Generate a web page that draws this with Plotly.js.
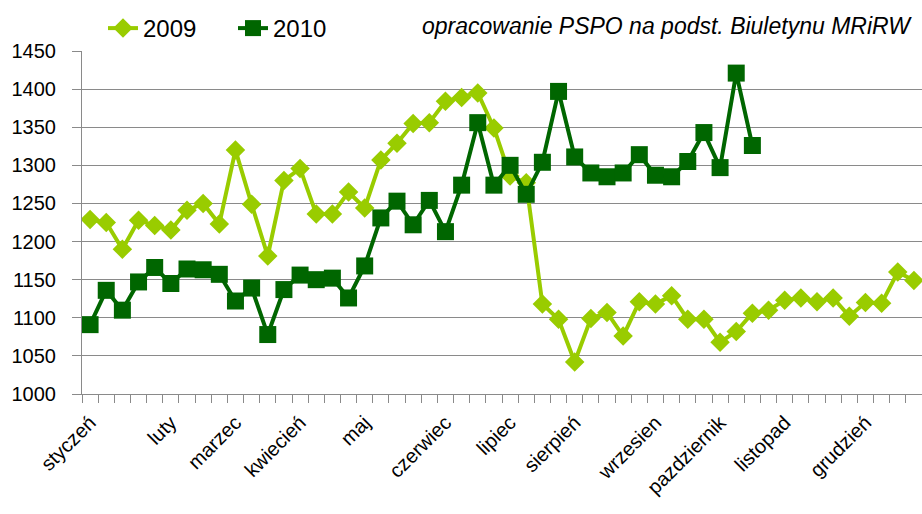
<!DOCTYPE html>
<html>
<head>
<meta charset="utf-8">
<script src="https://cdn.plot.ly/plotly-3.0.1.min.js"></script>
<style>html,body{margin:0;padding:0;background:#fff;}#chart{width:922px;height:514px;}</style>
</head>
<body>
<div id="chart"></div>
<script>
const weeks = [1,2,3,4,5,6,7,8,9,10,11,12,13,14,15,16,17,18,19,20,21,22,23,24,25,26,
  27,28,29,30,31,32,33,34,35,36,37,38,39,40,41,42,43,44,45,46,47,48,49,50,51,52];
const monthWeeks = [1,6,10,14,18,23,27,31,36,40,44,49];
const monthNames = ["styczeń","luty","marzec","kwiecień","maj","czerwiec","lipiec","sierpień","wrzesien","pazdziernik","listopad","grudzień"];
const values2009 = [1229,1225,1190,1228,1221,1215,1241,1250,1223,1320,1249,1181,1280,1296,1236,1236,
  1265,1244,1307,1329,1355,1356,1384,1389,1395,1349,1286,1277,1118,1098,1042,1099,1107,1076,1121,1118,
  1129,1098,1098,1068,1082,1106,1110,1123,1126,1121,1126,1102,1120,1119,1160,1149];
const values2010 = [1091,1136,1110,1147,1166,1145,1164,1163,1157,1122,1139,1078,1137,1156,1150,1152,
  1126,1168,1231,1253,1222,1254,1213,1274,1356,1274,1300,1262,1304,1397,1311,1290,1285,1290,1314,1287,
  1285,1305,1343,1297,1421,1326];
const yTicks = [1000,1050,1100,1150,1200,1250,1300,1350,1400,1450];
const sourceNote = "opracowanie PSPO na podst. Biuletynu MRiRW";

const grid = '#8a8a8a';
const font = "'Liberation Sans', Arial, sans-serif";

const traces = [
  {x: weeks, y: values2009, name: '2009', type: 'scatter', mode: 'lines+markers',
   line: {color: '#99cc00', width: 4}, marker: {symbol: 'diamond', size: 15, color: '#99cc00'}},
  {x: weeks.slice(0, values2010.length), y: values2010, name: '2010', type: 'scatter', mode: 'lines+markers',
   line: {color: '#006600', width: 4}, marker: {symbol: 'square', size: 17, color: '#006600'}}
];

const layout = {
  width: 922, height: 514,
  margin: {l: 82, r: 0, t: 51, b: 120},
  paper_bgcolor: '#fff', plot_bgcolor: '#fff',
  font: {family: font, color: '#000', size: 18},
  showlegend: true,
  legend: {orientation: 'h', x: 0.025, y: 1.0, xanchor: 'left', yanchor: 'bottom',
           font: {size: 24, family: font}, entrywidth: 85, entrywidthmode: 'pixels',
           tracegroupgap: 0, bgcolor: 'rgba(0,0,0,0)'},
  xaxis: {
    type: 'linear', range: [0.5, 52.5], tickmode: 'array', tickvals: monthWeeks, ticktext: monthNames,
    tickangle: -45, ticks: '', showgrid: false, zeroline: false,
    showline: true, linecolor: grid, linewidth: 1, ticklabelstandoff: 8,
    tickfont: {size: 20, family: font},
    minor: {tick0: 0.5, dtick: 1, ticks: 'outside', ticklen: 8, tickcolor: grid, tickwidth: 1, showgrid: false}
  },
  yaxis: {
    range: [1000, 1450], tickmode: 'array', tickvals: yTicks, ticks: 'outside', ticklen: 9, tickcolor: grid,
    showgrid: true, gridcolor: grid, gridwidth: 1, zeroline: false,
    showline: true, linecolor: grid, linewidth: 1, ticklabelstandoff: 12,
    tickfont: {size: 20, family: font}
  },
  annotations: [{
    text: sourceNote, xref: 'paper', yref: 'paper', x: 0.99, y: 1.03, xanchor: 'right', yanchor: 'bottom',
    showarrow: false, font: {size: 23, family: font, style: 'italic', color: '#000'}
  }]
};

Plotly.newPlot('chart', traces, layout, {displayModeBar: false, staticPlot: true});
</script>
</body>
</html>
